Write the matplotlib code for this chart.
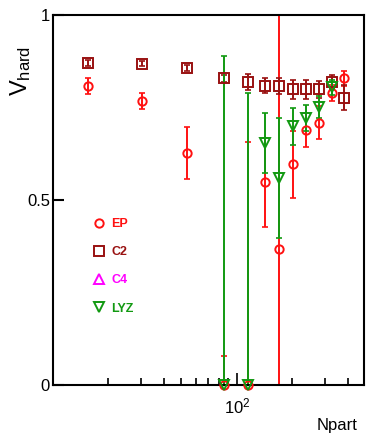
import matplotlib
matplotlib.use("Agg")
import matplotlib.pyplot as plt
from matplotlib.lines import Line2D
from matplotlib.ticker import FixedLocator, NullFormatter, FixedFormatter

plt.rcParams['font.family'] = ['Liberation Sans', 'DejaVu Sans']
plt.rcParams['mathtext.fontset'] = 'custom'
plt.rcParams['mathtext.rm'] = 'Liberation Sans'
plt.rcParams['mathtext.it'] = 'Liberation Sans'

# ---- data ----
npart = [15.6, 30.5, 53.5, 85.3, 115.6, 141.3, 169.0, 201.5, 236.0, 280.0, 328.0, 380.0]

ep_val = [0.808, 0.768, 0.628, 0.0, 0.0, 0.548, 0.369, 0.597, 0.689, 0.709, 0.790, 0.829]
ep_err = [0.021, 0.022, 0.070, 0.078, 0.657, 0.120, 0.750, 0.090, 0.045, 0.045, 0.022, 0.020]

c2_val = [0.870, 0.869, 0.858, 0.829, 0.819, 0.809, 0.808, 0.799, 0.799, 0.799, 0.819, 0.777]
c2_err = [0.008, 0.008, 0.008, 0.010, 0.022, 0.020, 0.022, 0.025, 0.025, 0.022, 0.020, 0.033]

lyz_npart = [85.3, 115.6, 141.3, 169.0, 201.5, 236.0, 280.0, 328.0]
lyz_val = [0.0, 0.0, 0.653, 0.560, 0.700, 0.723, 0.752, 0.805]
lyz_err = [0.889, 0.788, 0.081, 0.162, 0.050, 0.035, 0.030, 0.020]

legend_labels = ['EP', 'C2', 'C4', 'LYZ']

RED = '#ff1111'
DRED = '#991111'
MAG = '#ff00ff'
GRN = '#119911'

fig = plt.figure(figsize=(3.74, 4.41), dpi=100)
ax = fig.add_axes([0.1409, 0.1263, 0.8324, 0.8397])

def draw(x, y, e, color, marker, ms):
    ax.errorbar(x, y, yerr=e, fmt='none', ecolor=color, elinewidth=1.4,
                capsize=2, capthick=1.2, zorder=2)
    ax.plot(x, y, linestyle='none', marker=marker, ms=ms, mfc='none',
            mec=color, mew=1.4, clip_on=False, zorder=3)

draw(npart, ep_val, ep_err, RED, 'o', 6)
draw(npart, c2_val, c2_err, DRED, 's', 6.5)
draw(lyz_npart, lyz_val, lyz_err, GRN, 'v', 6.5)

ax.set_xscale('log')
ax.set_xlim(10, 490)
ax.set_ylim(0, 1)

ax.xaxis.set_major_locator(FixedLocator([100]))
ax.xaxis.set_major_formatter(FixedFormatter([r'$\mathregular{10^{2}}$']))
ax.xaxis.set_minor_locator(FixedLocator([20, 30, 40, 50, 60, 70, 80, 90, 200, 300, 400]))
ax.xaxis.set_minor_formatter(NullFormatter())
ax.yaxis.set_major_locator(FixedLocator([0, 0.5, 1]))
ax.yaxis.set_major_formatter(FixedFormatter(['0', '0.5', '1']))

ax.tick_params(axis='x', which='major', direction='in', length=9, width=1.2,
               labelsize=12, pad=8)
ax.tick_params(axis='x', which='minor', direction='in', length=5, width=1.2)
ax.tick_params(axis='y', which='major', direction='in', length=8, width=1.5,
               labelsize=12, pad=2)
for s in ax.spines.values():
    s.set_linewidth(1.5)

fig.text(0.957, 0.025, 'Npart', fontsize=12, ha='right', va='baseline')
fig.text(0.055, 0.84, r'$\mathregular{V_{hard}}$', fontsize=17, rotation=90,
         ha='center', va='center')

handles = [
    Line2D([], [], linestyle='none', marker='o', ms=6, mfc='none', mec=RED, mew=1.4),
    Line2D([], [], linestyle='none', marker='s', ms=6.5, mfc='none', mec=DRED, mew=1.4),
    Line2D([], [], linestyle='none', marker='^', ms=6.5, mfc='none', mec=MAG, mew=1.4),
    Line2D([], [], linestyle='none', marker='v', ms=6.5, mfc='none', mec=GRN, mew=1.4),
]
ax.legend(handles, legend_labels, loc='upper left', bbox_to_anchor=(0.128, 0.452),
          frameon=False, prop=dict(weight='bold', size=9),
          labelcolor=[RED, DRED, MAG, GRN], handlelength=1.0, handletextpad=0.5,
          labelspacing=1.3, borderpad=0, borderaxespad=0)

fig.savefig('out.png', dpi=100)
